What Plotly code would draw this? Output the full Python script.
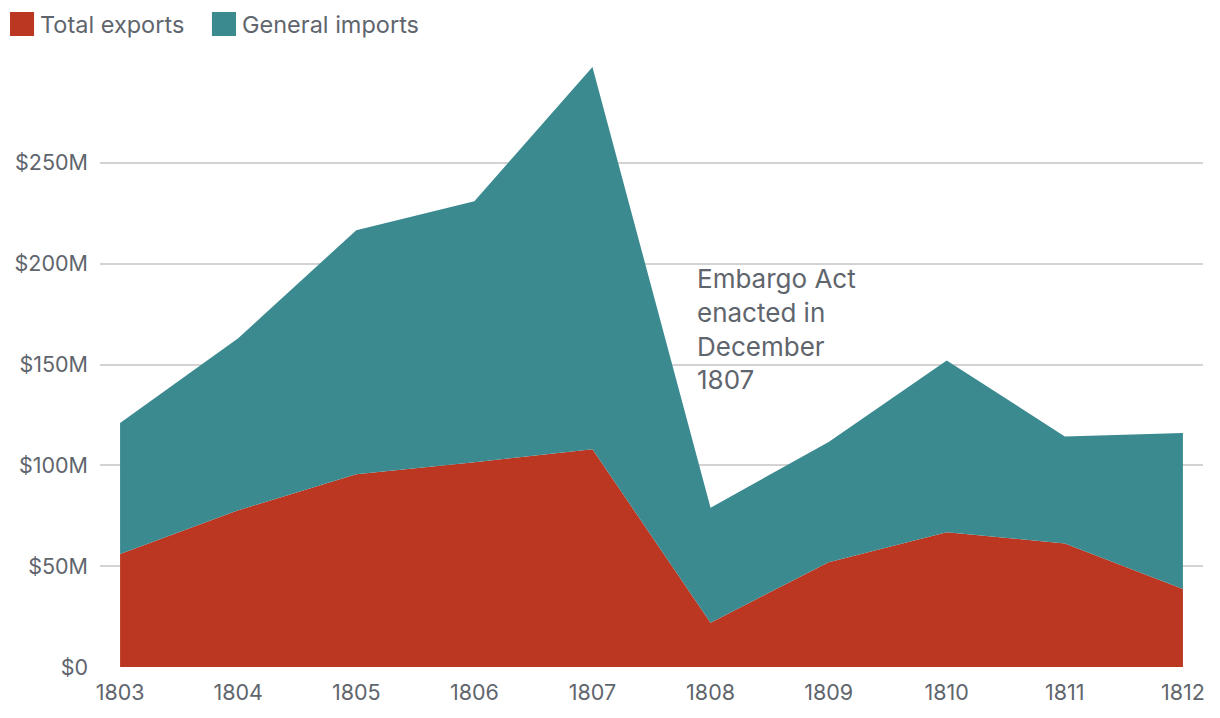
import plotly.graph_objects as go

years = [1803, 1804, 1805, 1806, 1807, 1808, 1809, 1810, 1811, 1812]
exports = [56.0, 77.7, 95.6, 101.5, 108.0, 22.0, 52.0, 66.8, 61.3, 38.7]
imports = [65.0, 85.3, 121.0, 129.5, 189.5, 57.0, 59.6, 85.2, 53.0, 77.3]
y_ticks = [0, 50, 100, 150, 200, 250]
y_tick_labels = ["$0", "$50M", "$100M", "$150M", "$200M", "$250M"]
series_names = ["Total exports", "General imports"]
colors = ["#BB3722", "#3B8A90"]

FONT = "Inter"
TXT = "#5F656D"

fig = go.Figure()
fig.add_trace(go.Scatter(x=years, y=exports, name=series_names[0], stackgroup="one",
                         mode="lines", line=dict(width=0, color=colors[0]),
                         fillcolor=colors[0], showlegend=False, hoverinfo="x+y"))
fig.add_trace(go.Scatter(x=years, y=imports, name=series_names[1], stackgroup="one",
                         mode="lines", line=dict(width=0, color=colors[1]),
                         fillcolor=colors[1], showlegend=False, hoverinfo="x+y"))

# manual legend (square swatches + labels)
legend_x = [(-0.0816, -0.0598, -0.0562), (0.1015, 0.1233, 0.1269)]
for (x0, x1, xt), name, c in zip(legend_x, series_names, colors):
    fig.add_shape(type="rect", xref="paper", yref="paper", x0=x0, x1=x1,
                  y0=1.043, y1=1.0826, fillcolor=c, line=dict(width=0))
    fig.add_annotation(xref="paper", yref="paper", x=xt, y=1.062, text=name,
                       showarrow=False, xanchor="left", yanchor="middle",
                       font=dict(family=FONT, size=23.5, color=TXT))

fig.add_annotation(x=1807.87, y=201.5, text="Embargo Act<br>enacted in<br>December<br>1807",
                   showarrow=False, xanchor="left", yanchor="top", align="left",
                   font=dict(family=FONT, size=26, color=TXT))

fig.update_layout(
    width=1212, height=710,
    margin=dict(l=92, r=17, t=54, b=51, autoexpand=False),
    paper_bgcolor="white", plot_bgcolor="white",
    font=dict(family=FONT, size=21, color=TXT),
    showlegend=False,
    xaxis=dict(range=[1802.83, 1812.17], tickvals=years, ticktext=[str(y) for y in years],
               showgrid=False, zeroline=False, showline=False, ticks="", automargin=False,
               ticklabelstandoff=10, tickfont=dict(size=21.5, color=TXT)),
    yaxis=dict(range=[0, 300], tickvals=y_ticks, ticktext=y_tick_labels,
               showgrid=True, gridcolor="#D3D3D3", gridwidth=1.5, zeroline=False,
               showline=False, ticks="", ticklabelstandoff=11, automargin=False,
               tickfont=dict(size=21.5, color=TXT)),
)

fig.write_html("out.html")
